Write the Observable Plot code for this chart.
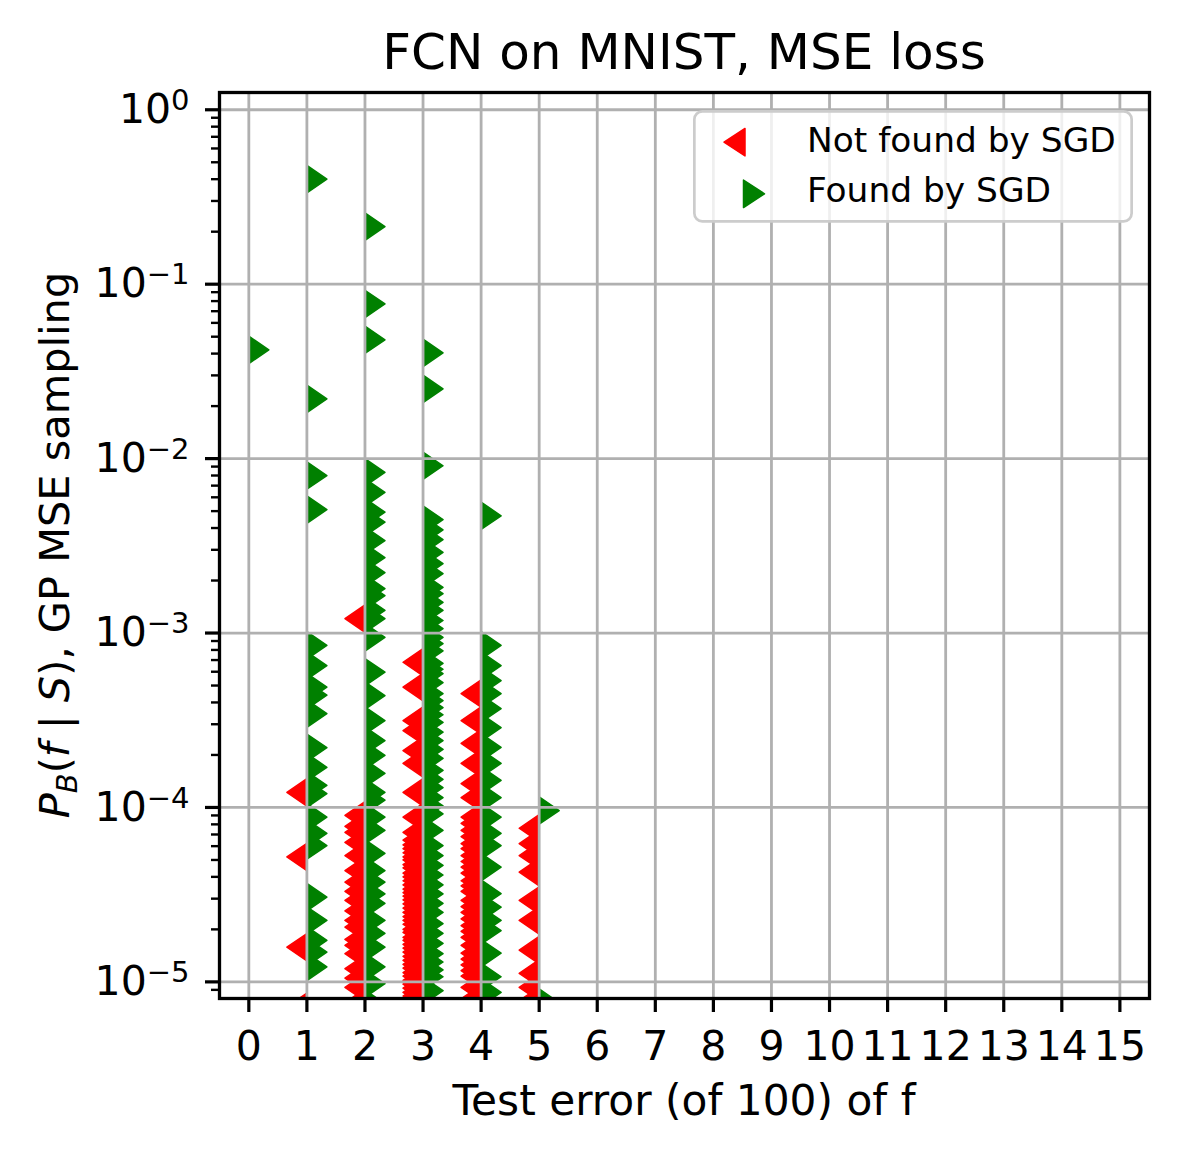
<!DOCTYPE html>
<html>
<head>
<meta charset="utf-8">
<script src="https://cdn.jsdelivr.net/npm/d3@7"></script>
<script src="https://cdn.jsdelivr.net/npm/@observablehq/plot@0.6"></script>
<style>
  body { margin: 0; background: #fff; font-family: "DejaVu Sans", sans-serif; }
  #wrap { position: relative; width: 1178px; height: 1154px; }
  #title { position: absolute; left: 219px; width: 930px; top: 27px; text-align: center;
           font-size: 50px; line-height: 50px; color: #000; white-space: nowrap; }
  #legend { position: absolute; left: 693px; top: 109.5px; }
  #chart { position: absolute; left: 0; top: 0; }
</style>
</head>
<body>
<div id="wrap">
  <div id="chart"></div>
  <div id="title">FCN on MNIST, MSE loss</div>
  <svg id="legend" width="442" height="114" font-family="DejaVu Sans">
    <rect x="1.35" y="1.35" width="437.3" height="110" rx="8" ry="8" fill="#ffffff" fill-opacity="0.8" stroke="#cccccc" stroke-width="2.7"></rect>
    <polygon points="52,18.5 31,32.2 52,45.9" fill="#ff0000" stroke="#ff0000" stroke-width="1.5" stroke-linejoin="round"></polygon>
    <text x="114" y="42.2" font-size="34.4" fill="#000">Not found by SGD</text>
    <polygon points="50.5,70.1 71.5,83.8 50.5,97.5" fill="#008000" stroke="#008000" stroke-width="1.5" stroke-linejoin="round"></polygon>
    <text x="114" y="92.2" font-size="34.4" fill="#000">Found by SGD</text>
  </svg>
</div>
<script>
// ---- data ----
const testErrors = [0, 1, 2, 3, 4, 5];

// P_B(f|S) of functions NOT found by SGD, per test error
const notFound0 = [];
const notFound1 = [1.22e-4, 5.2e-5, 1.58e-5, 7.2e-6];
const notFound2 = [1.21e-3, 9.0e-5, 7.8e-5, 7.2e-5, 6.3e-5, 5.3e-5, 4.35e-5, 3.73e-5, 3.3e-5, 2.93e-5,
                   2.55e-5, 2.25e-5, 2.06e-5, 1.75e-5, 1.62e-5, 1.45e-5, 1.19e-5, 1.05e-5, 9.3e-6, 7.6e-6];
const notFound3 = [6.8e-4, 4.9e-4, 3.15e-4, 2.76e-4, 2.12e-4, 1.79e-4, 1.22e-4, 8.8e-5, 7.2e-5, 6.5e-5,
                   6.1e-5, 5.8e-5, 5.5e-5, 5.2e-5, 5.0e-5, 4.7e-5, 4.5e-5, 4.2e-5, 4.0e-5, 3.8e-5,
                   3.6e-5, 3.4e-5, 3.25e-5, 3.1e-5, 2.95e-5, 2.8e-5, 2.65e-5, 2.5e-5, 2.37e-5, 2.25e-5,
                   2.14e-5, 2.0e-5, 1.92e-5, 1.8e-5, 1.73e-5, 1.64e-5, 1.56e-5, 1.48e-5, 1.4e-5, 1.33e-5,
                   1.26e-5, 1.2e-5, 1.13e-5, 1.08e-5, 1.02e-5, 9.7e-6, 9.2e-6, 8.7e-6, 8.3e-6, 7.8e-6];
const notFound4 = [4.5e-4, 3.15e-4, 2.33e-4, 1.79e-4, 1.37e-4, 1.14e-4, 8.8e-5, 8.1e-5, 7.4e-5, 6.8e-5,
                   6.2e-5, 5.8e-5, 5.3e-5, 4.9e-5, 4.55e-5, 4.2e-5, 3.8e-5, 3.55e-5, 3.3e-5, 2.93e-5,
                   2.7e-5, 2.5e-5, 2.3e-5, 2.1e-5, 1.95e-5, 1.8e-5, 1.62e-5, 1.46e-5, 1.35e-5, 1.25e-5,
                   1.16e-5, 1.08e-5, 9.3e-6, 8.0e-6];
const notFound5 = [7.6e-5, 6.2e-5, 5.3e-5, 4.26e-5, 2.93e-5, 2.25e-5, 1.52e-5, 1.12e-5, 9.3e-6, 7.8e-6];

// P_B(f|S) of functions found by SGD, per test error
const found0 = [4.2e-2];
const found1 = [0.40, 0.022, 8.0e-3, 5.1e-3, 8.5e-4, 6.5e-4, 4.9e-4, 4.4e-4, 3.45e-4, 2.2e-4,
                1.7e-4, 1.34e-4, 1.2e-4, 8.8e-5, 7.1e-5, 6.05e-5, 3.06e-5, 2.25e-5, 1.73e-5, 1.48e-5,
                1.22e-5];
const found2 = [0.214, 0.077, 0.048, 8.34e-3, 6.4e-3, 4.93e-3, 4.32e-3, 3.39e-3, 2.71e-3, 2.22e-3,
                1.8e-3, 1.64e-3, 1.35e-3, 1.21e-3, 9.45e-4, 5.96e-4, 4.38e-4, 3.15e-4, 2.42e-4, 1.99e-4,
                1.57e-4, 1.22e-4, 1.1e-4, 8.8e-5, 7.4e-5, 5.45e-5, 4.35e-5, 3.73e-5, 3.2e-5, 2.82e-5,
                2.25e-5, 1.9e-5, 1.58e-5, 1.22e-5, 9.76e-6, 7.5e-6];
const found3 = [4.04e-2, 2.51e-2, 9.1e-3, 4.47e-3, 3.9e-3, 3.43e-3, 2.9e-3, 2.5e-3, 2.19e-3, 1.83e-3,
                1.68e-3, 1.5e-3, 1.35e-3, 1.18e-3, 1.06e-3, 9.45e-4, 8.7e-4, 7.9e-4, 6.7e-4, 6.2e-4,
                5.85e-4, 5.2e-4, 4.5e-4, 4.1e-4, 3.74e-4, 3.4e-4, 3.07e-4, 2.7e-4, 2.42e-4, 2.15e-4,
                1.91e-4, 1.63e-4, 1.45e-4, 1.3e-4, 1.14e-4, 1.02e-4, 9.2e-5, 7.4e-5, 6.05e-5, 5.3e-5,
                4.65e-5, 4.1e-5, 3.6e-5, 3.2e-5, 2.82e-5, 2.5e-5, 2.16e-5, 1.9e-5, 1.66e-5, 1.45e-5,
                1.3e-5, 1.17e-5, 1.07e-5, 8.9e-6];
const found4 = [4.7e-3, 8.5e-4, 6.5e-4, 5.34e-4, 4.5e-4, 3.69e-4, 2.87e-4, 2.21e-4, 1.79e-4, 1.43e-4,
                1.14e-4, 8.8e-5, 7.1e-5, 6.05e-5, 4.55e-5, 3.21e-5, 2.68e-5, 2.25e-5, 1.97e-5, 1.46e-5,
                1.07e-5, 8.7e-6];
const found5 = [9.6e-5, 7.6e-6];

const xTicks = [0, 1, 2, 3, 4, 5, 6, 7, 8, 9, 10, 11, 12, 13, 14, 15];
const yMajorTicks = [1e-5, 1e-4, 1e-3, 1e-2, 1e-1, 1];
const yMinorTicks = [9e-6,
  2e-5, 3e-5, 4e-5, 5e-5, 6e-5, 7e-5, 8e-5, 9e-5,
  2e-4, 3e-4, 4e-4, 5e-4, 6e-4, 7e-4, 8e-4, 9e-4,
  2e-3, 3e-3, 4e-3, 5e-3, 6e-3, 7e-3, 8e-3, 9e-3,
  2e-2, 3e-2, 4e-2, 5e-2, 6e-2, 7e-2, 8e-2, 9e-2,
  2e-1, 3e-1, 4e-1, 5e-1, 6e-1, 7e-1, 8e-1, 9e-1];

const notFoundSeries = [notFound0, notFound1, notFound2, notFound3, notFound4, notFound5];
const foundSeries = [found0, found1, found2, found3, found4, found5];

const redRows = [];
notFoundSeries.forEach((vals, i) => vals.forEach(p => redRows.push({err: testErrors[i], p})));
const greenRows = [];
foundSeries.forEach((vals, i) => vals.forEach(p => greenRows.push({err: testErrors[i], p})));

// matplotlib-like "caret base" markers: base at the point, tip pointing left/right
const H = 13.7, D = 20;
const caretLeftBase = { draw(ctx) { ctx.moveTo(0, -H); ctx.lineTo(-D, 0); ctx.lineTo(0, H); ctx.closePath(); } };
const caretRightBase = { draw(ctx) { ctx.moveTo(0, -H); ctx.lineTo(D, 0); ctx.lineTo(0, H); ctx.closePath(); } };

const supMap = {"-": "⁻", "0": "⁰", "1": "¹", "2": "²", "3": "³", "4": "⁴", "5": "⁵", "6": "⁶", "7": "⁷", "8": "⁸", "9": "⁹"};
const unsup = Object.fromEntries(Object.entries(supMap).map(([k, v]) => [v, k === "-" ? "−" : k]));
const fmtPow = d => "10" + String(Math.round(Math.log10(d))).split("").map(c => supMap[c]).join("");

const chart = Plot.plot({
  width: 1178,
  height: 1154,
  marginLeft: 219,
  marginRight: 29,
  marginTop: 92,
  marginBottom: 156,
  style: {fontFamily: "DejaVu Sans", background: "transparent", color: "#000", overflow: "visible"},
  x: {domain: [-0.505, 15.51]},
  y: {type: "log", domain: [8.03e-6, 1.256]},
  marks: [
    Plot.dot(redRows, {x: "err", y: "p", symbol: caretLeftBase, fill: "#ff0000", stroke: "#ff0000",
                       strokeWidth: 1.5, strokeLinejoin: "round", clip: true}),
    Plot.dot(greenRows, {x: "err", y: "p", symbol: caretRightBase, fill: "#008000", stroke: "#008000",
                         strokeWidth: 1.5, strokeLinejoin: "round", clip: true}),
    Plot.gridX(xTicks, {stroke: "#b0b0b0", strokeOpacity: 1, strokeWidth: 2.8}),
    Plot.gridY(yMajorTicks, {stroke: "#b0b0b0", strokeOpacity: 1, strokeWidth: 2.8}),
    Plot.frame({stroke: "#000", strokeWidth: 3.3}),
    Plot.axisX(xTicks, {anchor: "bottom", tickSize: 14, strokeWidth: 3.2, tickPadding: 18, fontSize: 41,
                        label: null, tickFormat: d => String(d)}),
    Plot.axisY(yMinorTicks, {anchor: "left", tickSize: 8, strokeWidth: 2.4, text: null, label: null}),
    Plot.axisY(yMajorTicks, {anchor: "left", tickSize: 14, strokeWidth: 3.2, tickPadding: 16, fontSize: 41,
                             label: null, tickFormat: fmtPow})
  ]
});

document.getElementById("chart").appendChild(chart);
const svg = d3.select(chart.tagName.toLowerCase() === "svg" ? chart : chart.querySelector("svg"));

// turn "10⁻³" into "10" + raised smaller exponent, like matplotlib mathtext
svg.selectAll("text").each(function () {
  const t = d3.select(this);
  if (this.querySelector("tspan")) {
    d3.select(this).selectAll("tspan").each(function () { fix(d3.select(this)); });
  } else fix(t);
  function fix(el) {
    const s = el.text();
    const m = s.match(/^10([⁻⁰¹²³⁴⁵⁶⁷⁸⁹]+)$/);
    if (!m) return;
    const exp = m[1].split("").map(c => unsup[c]).join("");
    el.text("");
    el.append("tspan").text("10");
    el.append("tspan").attr("font-size", 29).attr("dy", -13).text(exp);
  }
});

// axis labels
const cx = (219 + 1149) / 2, cy = (92 + 998) / 2;
svg.append("text")
  .attr("x", cx).attr("y", 1115)
  .attr("text-anchor", "middle").attr("font-size", 42.3).attr("font-family", "DejaVu Sans").attr("fill", "#000")
  .text("Test error (of 100) of f");

const yl = svg.append("text")
  .attr("transform", `translate(69,${cy}) rotate(-90)`)
  .attr("text-anchor", "middle").attr("font-size", 41.5).attr("font-family", "DejaVu Sans").attr("fill", "#000");
yl.append("tspan").attr("font-style", "italic").text("P");
yl.append("tspan").attr("font-style", "italic").attr("font-size", 29).attr("dy", 8).text("B");
yl.append("tspan").attr("dy", -8).text("(");
yl.append("tspan").attr("font-style", "italic").text("f");
yl.append("tspan").text(" | ");
yl.append("tspan").attr("font-style", "italic").text("S");
yl.append("tspan").text("), GP MSE sampling");
</script>
</body>
</html>
